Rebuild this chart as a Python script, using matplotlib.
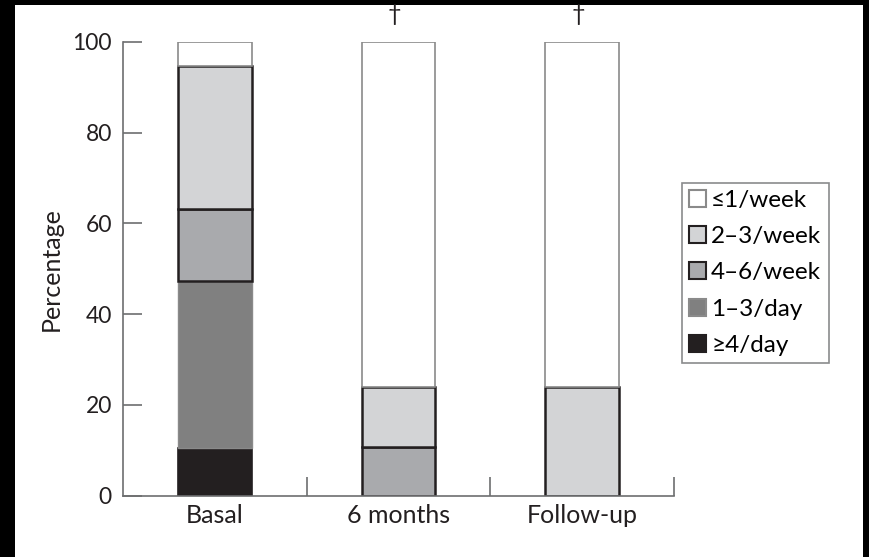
import matplotlib
matplotlib.use("Agg")
import matplotlib.pyplot as plt
from matplotlib.patches import Patch, Rectangle
import numpy as np

plt.rcParams['font.family'] = ['Lato', 'DejaVu Sans']

categories = ["Basal", "6 months", "Follow-up"]
# stacked from bottom to top
series_labels = ["\u22654/day", "1\u20133/day", "4\u20136/week", "2\u20133/week", "\u22641/week"]
day4_plus = [10.5, 0.0, 0.0]
day1_3 = [36.9, 0.0, 0.0]
week4_6 = [15.8, 10.7, 0.0]
week2_3 = [31.5, 13.3, 24.0]
week1_less = [5.3, 76.0, 76.0]
significance = ["", "\u2020", "\u2020"]

fills = ["#231f20", "#808080", "#a9aaad", "#d3d4d6", "#ffffff"]
edges = ["#231f20", "#8a8a8a", "#231f20", "#231f20", "#8a8a8a"]
widths = [1.2, 1.0, 1.8, 1.8, 1.2]

fig = plt.figure(figsize=(8.7, 5.57), dpi=100, facecolor="black")
fig.patches.append(Rectangle((15 / 870, 0), (863 - 15) / 870, 1 - 5 / 557,
                             transform=fig.transFigure, facecolor="white",
                             edgecolor="none", zorder=-5))

ax = fig.add_axes([123 / 870, 1 - 495.5 / 557, (674 - 123) / 870, (495.5 - 42) / 557])
ax.set_facecolor("none")

x = np.arange(len(categories))
bottom = np.zeros(len(categories))
series = [day4_plus, day1_3, week4_6, week2_3, week1_less]
for vals, fc, ec, lw in zip(series, fills, edges, widths):
    vals = np.array(vals)
    mask = vals > 0
    ax.bar(x[mask], vals[mask], width=0.4, bottom=bottom[mask], color=fc,
           edgecolor=ec, linewidth=lw, zorder=2)
    bottom += vals

for xi, s in zip(x, significance):
    if s:
        ax.annotate(s, (xi, 100), xytext=(-3, 12), textcoords="offset points",
                    ha="center", va="bottom", fontsize=17, color="#231f20")

ax.set_xlim(-0.5, 2.5)
ax.set_ylim(0, 100)
ax.set_yticks([0, 20, 40, 60, 80, 100])
ax.set_xticks(x)
ax.set_xticklabels(categories, fontsize=18, color="#231f20")
ax.tick_params(axis="x", length=0, pad=6)
ax.set_xticks([0.5, 1.5, 2.5], minor=True)
ax.tick_params(axis="x", which="minor", direction="in", length=13.5, width=1.2, color="#6d6e70")
ax.tick_params(axis="y", direction="in", length=13.5, width=1.2, color="#6d6e70",
               labelsize=16.5, labelcolor="#231f20", pad=8)
for side in ["top", "right"]:
    ax.spines[side].set_visible(False)
for side in ["left", "bottom"]:
    ax.spines[side].set_color("#6d6e70")
    ax.spines[side].set_linewidth(1.2)
ax.set_ylabel("Percentage", fontsize=18, color="#231f20")
ax.yaxis.set_label_coords(-0.11, 0.5)

handles = [Patch(facecolor=fc, edgecolor=ec, linewidth=1.5)
           for fc, ec in zip(fills[::-1], edges[::-1])]
leg = fig.legend(handles, series_labels[::-1], loc="upper left",
                 bbox_to_anchor=(682 / 870, 1 - 183 / 557), fontsize=17.5,
                 frameon=True, fancybox=False, handlelength=0.7, handleheight=0.7,
                 handletextpad=0.2, labelspacing=0.62, borderpad=0.3, borderaxespad=0,
                 edgecolor="#6d6e70")
leg.get_frame().set_linewidth(1.2)

fig.savefig("out.png", dpi=100, facecolor=fig.get_facecolor())
